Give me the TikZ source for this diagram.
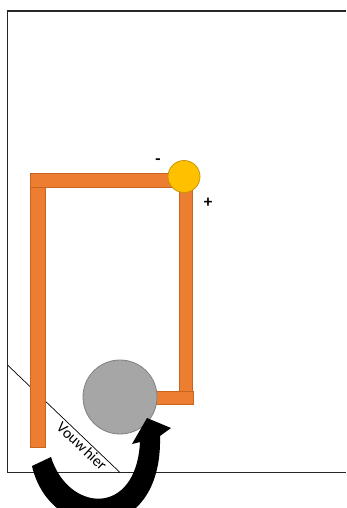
\documentclass[tikz,border=0pt]{standalone}
\usepackage{fontspec}
\newfontfamily\carl{Carlito}
\definecolor{barfill}{HTML}{ED7D31}
\definecolor{bardraw}{HTML}{C9651F}
\definecolor{yfill}{HTML}{FFC000}
\definecolor{ydraw}{HTML}{C99700}
\definecolor{gfill}{HTML}{A6A6A6}
\definecolor{gdraw}{HTML}{808080}
\begin{document}
\begin{tikzpicture}[x=1pt,y=-1pt,
  bar/.style={fill=barfill,draw=bardraw,line width=0.6pt},
  frameline/.style={draw=black!85,line width=1.7pt},
  lbl/.style={font=\carl\fontsize{15.5}{15.5}\selectfont,inner sep=0pt},
  sign/.style={font=\carl\bfseries\fontsize{17}{17}\selectfont,inner sep=0pt}]
\useasboundingbox (0,0) rectangle (346,508);
\fill[white] (0,0) rectangle (346,508);
% frame (open to the right)
\draw[frameline] (346,11) -- (7.5,11) -- (7.5,472.5) -- (346,472.5);
% fold line
\coordinate (fa) at (7.5,365);
\coordinate (fb) at (120,472.5);
\draw[black,line width=0.7pt] (fa) -- (fb);
\node[lbl,rotate=-43.4] (vouw) at (82,446) {Vouw\kern0.12em hier};
% orange wire
\draw[bar] (30,187) rectangle (45,447);
\draw[bar] (30,173.5) rectangle (186,187);
\draw[bar] (179,187) rectangle (192.5,391);
\draw[bar] (150,391) rectangle (193,404);
% battery
\node[circle,fill=yfill,draw=ydraw,line width=0.8pt,minimum size=32pt,inner sep=0pt] (bat) at (184,176.5) {};
\node[sign] (minus) at (158,162) {-};
\node[sign] (plus) at (208,203) {+};
% gray circle
\node[circle,fill=gfill,draw=gdraw,line width=0.8pt,minimum size=74pt,inner sep=0pt] (disc) at (120,397) {};
% curved arrow
\fill[black] (32,466) .. controls (50,545) and (163,548) .. (160,436)
  -- (171,428) -- (147,418) -- (132,444) -- (140,442)
  .. controls (136,518) and (68,512) .. (51,457) -- cycle;
\end{tikzpicture}
\end{document}
